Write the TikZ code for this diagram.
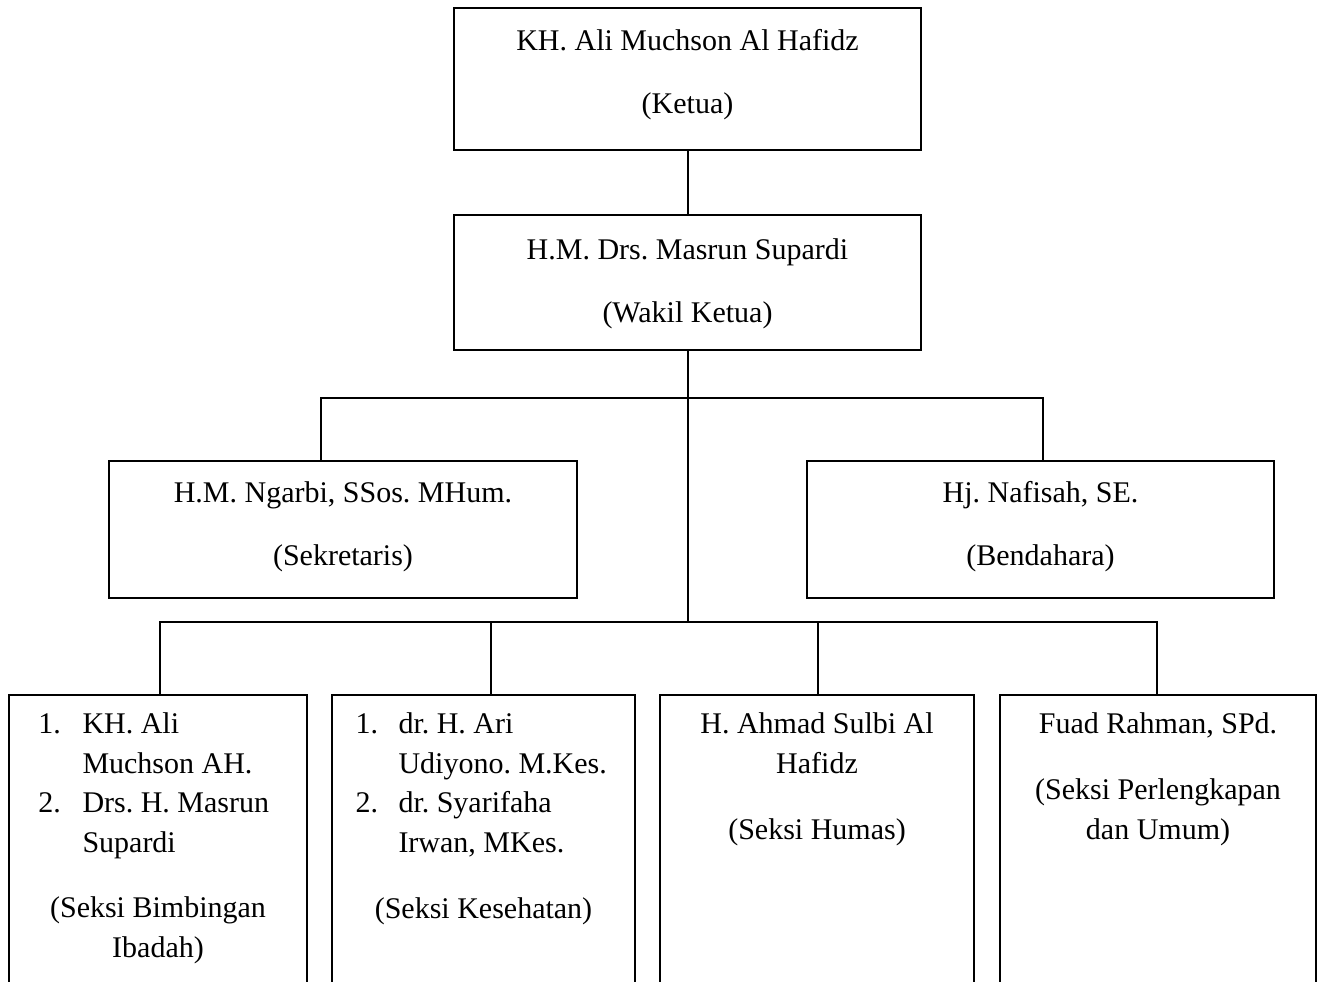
\documentclass[tikz,border=0pt]{standalone}
\usepackage{fontspec}
\setmainfont{Liberation Serif}
\usetikzlibrary{positioning}

\tikzset{
  jabatan/.style={draw, line width=0.8pt, inner sep=0pt},
  teks/.style={align=center, inner sep=0pt, font=\fontsize{12}{15.8}\selectfont\frenchspacing},
  garis/.style={line width=0.8pt},
}

\begin{document}
\begin{tikzpicture}[x=0.4pt, y=-0.4pt]
            \clip (0,0) rectangle (1318,981);

            % kotak pengurus
            \node[jabatan, minimum width=186.8pt, minimum height=56.8pt] (ketua) at (687.5,79) {};
            \node[jabatan, minimum width=186.8pt, minimum height=54pt] (wakil) at (687.5,282.5) {};
            \node[jabatan, minimum width=187.2pt, minimum height=54.8pt] (sekretaris) at (343,529.5) {};
            \node[jabatan, minimum width=186.8pt, minimum height=54.8pt] (bendahara) at (1040.5,529.5) {};
            \node[jabatan, minimum width=119.2pt, minimum height=160pt] (bimbingan) at (158,895) {};
            \node[jabatan, minimum width=121.2pt, minimum height=160pt] (kesehatan) at (483.5,895) {};
            \node[jabatan, minimum width=125.6pt, minimum height=160pt] (humas) at (817,895) {};
            \node[jabatan, minimum width=126.4pt, minimum height=160pt] (umum) at (1158,895) {};

            % garis
            \coordinate (cabang1) at (321,398);
            \coordinate (cabang2) at (1043,398);
            \coordinate (bus) at (687.5,622);
            \coordinate (bus1) at (160,622);
            \coordinate (bus2) at (491,622);
            \coordinate (bus3) at (818,622);
            \coordinate (bus4) at (1157,622);
            \draw[garis] (ketua.south) -- (wakil.north);
            \draw[garis] (wakil.south) -- (bus);
            \draw[garis] (cabang1 |- sekretaris.north) -- (cabang1) -- (cabang2) -- (cabang2 |- bendahara.north);
            \draw[garis] (bus1 |- bimbingan.north) -- (bus1) -- (bus4) -- (bus4 |- umum.north);
            \draw[garis] (bus2) -- (bus2 |- kesehatan.north);
            \draw[garis] (bus3) -- (bus3 |- humas.north);

            % nama (anchor base = garis dasar baris terakhir)
            \node[teks, anchor=base] (tketua) at (687.5,113) {KH. Ali Muchson Al Hafidz\\[9.4pt](Ketua)};
            \node[teks, anchor=base] (twakil) at (687.5,322) {H.M. Drs. Masrun Supardi\\[9.4pt](Wakil Ketua)};
            \node[teks, anchor=base] (tsekretaris) at (343,565) {H.M. Ngarbi, SSos. MHum.\\[9.4pt](Sekretaris)};
            \node[teks, anchor=base] (tbendahara) at (1040.5,565) {Hj. Nafisah, SE.\\[9.4pt](Bendahara)};

            \node[teks, anchor=base west] (no1a) at (38,733) {1.};
            \node[teks, anchor=base west, align=left] (isi1a) at (82,773) {KH. Ali\\Muchson AH.};
            \node[teks, anchor=base west] (no1b) at (38,812) {2.};
            \node[teks, anchor=base west, align=left] (isi1b) at (82,852) {Drs. H. Masrun\\Supardi};
            \node[teks, anchor=base] (tbimbingan) at (158,957) {(Seksi Bimbingan\\Ibadah)};

            \node[teks, anchor=base west] (no2a) at (355,733) {1.};
            \node[teks, anchor=base west, align=left] (isi2a) at (398,773) {dr. H. Ari\\Udiyono. M.Kes.};
            \node[teks, anchor=base west] (no2b) at (355,812) {2.};
            \node[teks, anchor=base west, align=left] (isi2b) at (398,852) {dr. Syarifaha\\Irwan, MKes.};
            \node[teks, anchor=base] (tkesehatan) at (483.5,918) {(Seksi Kesehatan)};

            \node[teks, anchor=base] (isi3) at (817,773) {H. Ahmad Sulbi Al\\Hafidz};
            \node[teks, anchor=base] (thumas) at (817,839) {(Seksi Humas)};

            \node[teks, anchor=base] (isi4) at (1158,733) {Fuad Rahman, SPd.};
            \node[teks, anchor=base] (tumum) at (1158,839) {(Seksi Perlengkapan\\dan Umum)};
        \end{tikzpicture}
\end{document}
